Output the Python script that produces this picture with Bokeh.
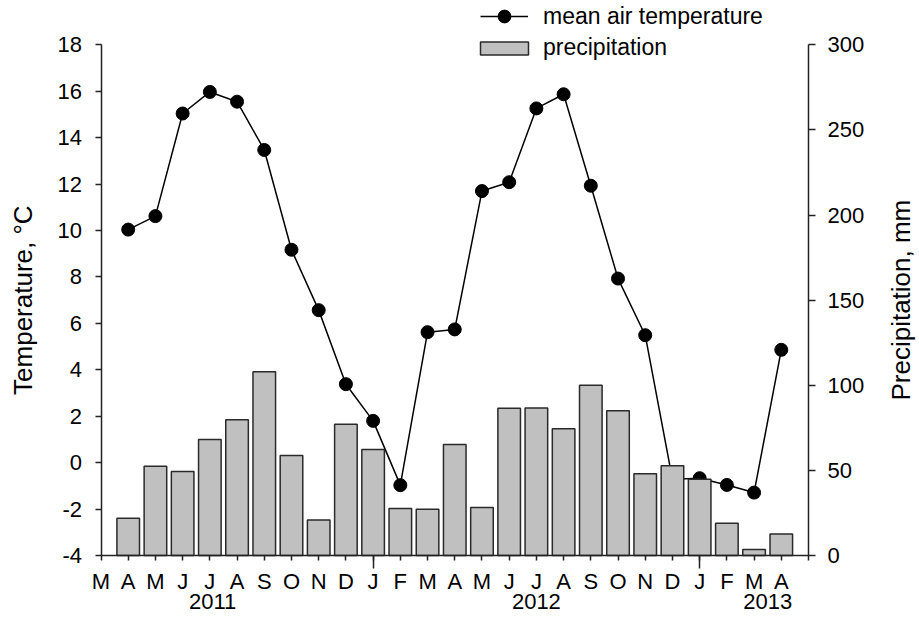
import math
import numpy as np
from bokeh.plotting import figure
from bokeh.models import (ColumnDataSource, Range1d, LinearAxis, FixedTicker,
                          Legend, LegendItem)
from bokeh.core.properties import value
from bokeh.embed import file_html
from bokeh.resources import INLINE

# ---------------- data ----------------
month_labels = ["M", "A", "M", "J", "J", "A", "S", "O", "N", "D",
                "J", "F", "M", "A", "M", "J", "J", "A", "S", "O", "N", "D",
                "J", "F", "M", "A"]            # Mar 2011 .. Apr 2013
months = list(range(1, 26))                    # Apr 2011 .. Apr 2013
temperature = [10.04, 10.62, 15.04, 15.97, 15.55, 13.47, 9.17, 6.57, 3.38,
               1.80, -0.97, 5.62, 5.74, 11.70, 12.08, 15.26, 15.87, 11.93,
               7.93, 5.49, -0.72, -0.67, -0.96, -1.29, 4.86]
precipitation = [21.9, 52.5, 49.3, 68.2, 79.7, 107.9, 58.8, 20.9, 77.1, 62.2,
                 27.6, 27.2, 65.2, 28.2, 86.5, 86.7, 74.4, 100.0, 85.1, 48.0,
                 52.7, 44.8, 19.0, 3.5, 12.7]
years = ["2011", "2012", "2013"]
year_label_pos = [4.1, 16.0, 24.5]
temp_ticks = list(range(-4, 19, 2))
precip_ticks = list(range(0, 301, 50))
temp_title = "Temperature, °C"
precip_title = "Precipitation, mm"

FONT = "Liberation Sans"
AX = "#222222"
W, H = 919, 619

# ---------------- layout (pixels) ----------------
AXIS_BOTTOM = 555      # canvas y of the bottom axis (y=-4 / 0 mm)
TOP_PAD = 44.3         # canvas y of the top of the axes (18 / 300)
PLOT_L, PLOT_R = 100.5, 808.0   # canvas x of month position 0 and 26
LEFT_TITLE_X, RIGHT_TITLE_X = 22.5, 900.0

n_pos = len(month_labels)
ppu_x = (PLOT_R - PLOT_L) / n_pos
x_start = -PLOT_L / ppu_x
x_end = n_pos + (W - PLOT_R) / ppu_x

t_lo, t_hi = temp_ticks[0], temp_ticks[-1]
p_lo, p_hi = precip_ticks[0], precip_ticks[-1]
ppu_t = (AXIS_BOTTOM - TOP_PAD) / (t_hi - t_lo)
ppu_p = (AXIS_BOTTOM - TOP_PAD) / (p_hi - p_lo)
t_range = (t_lo - (H - AXIS_BOTTOM) / ppu_t, t_hi + TOP_PAD / ppu_t)
p_range = (p_lo - (H - AXIS_BOTTOM) / ppu_p, p_hi + TOP_PAD / ppu_p)

src = ColumnDataSource(dict(x=months, t=temperature, p=precipitation))

p = figure(width=W, height=H, output_backend="svg", toolbar_location=None,
           title=None,
           x_range=Range1d(x_start, x_end), y_range=Range1d(*t_range),
           min_border_left=0, min_border_right=0,
           min_border_top=0, min_border_bottom=0)
p.outline_line_color = None
p.xgrid.grid_line_color = None
p.ygrid.grid_line_color = None
p.background_fill_color = "white"
p.border_fill_color = "white"
p.extra_y_ranges = {"precip": Range1d(*p_range)}

line_r = p.line("x", "t", source=src, line_color="black", line_width=1.5)
pts_r = p.scatter("x", "t", source=src, size=13, fill_color="black",
                  line_color="black")
bars_r = p.vbar(x="x", top="p", bottom=0, width=0.83, source=src,
                y_range_name="precip", fill_color="#c0c0c0",
                line_color="#2a2a2a", line_width=1.5)


def style_axis(ax, tick_out, standoff):
    ax.axis_line_color = AX
    ax.axis_line_width = 1.5
    ax.major_tick_line_color = AX
    ax.major_tick_line_width = 1.5
    ax.major_tick_out = tick_out
    ax.major_tick_in = 0
    ax.minor_tick_line_color = None
    ax.major_label_text_font = FONT
    ax.major_label_text_font_size = "22px"
    ax.major_label_text_color = "black"
    ax.major_label_standoff = standoff


# year boundaries (long ticks)
year_starts = [i for i in range(1, n_pos)
               if month_labels[i] == "J" and month_labels[i - 1] == "D"]

# bottom month axis (drawn at y = -4)
xaxis = p.xaxis[0]
xaxis.fixed_location = t_lo
xaxis.bounds = (0, n_pos)
xaxis.ticker = FixedTicker(ticks=list(range(n_pos + 1)), minor_ticks=year_starts)
xaxis.major_label_overrides = {i: (month_labels[i] if i < n_pos else "")
                               for i in range(n_pos + 1)}
style_axis(xaxis, 5, 0)
xaxis.minor_tick_line_color = AX
xaxis.minor_tick_line_width = 1.5
xaxis.minor_tick_out = 13
xaxis.minor_tick_in = 0

# year labels axis
year_axis = LinearAxis(ticker=FixedTicker(ticks=year_label_pos),
                       major_label_overrides=dict(zip(year_label_pos, years)),
                       fixed_location=t_lo)
style_axis(year_axis, 0, 38)
year_axis.axis_line_color = None
year_axis.major_tick_line_color = None
p.add_layout(year_axis, "below")

# left axis (drawn at month position 0)
yaxis = p.yaxis[0]
yaxis.fixed_location = 0
yaxis.bounds = (t_lo, t_hi)
yaxis.ticker = FixedTicker(ticks=temp_ticks)
yaxis.major_label_overrides = {t: str(t) for t in temp_ticks}
style_axis(yaxis, 6, 13)

# right axis (drawn at month position 26)
raxis = LinearAxis(y_range_name="precip", ticker=FixedTicker(ticks=precip_ticks),
                   bounds=(p_lo, p_hi), fixed_location=n_pos)
style_axis(raxis, 7, 12)
p.add_layout(raxis, "right")

# axis titles, rotated to read bottom-to-top
title_src = ColumnDataSource(dict(
    x=[(LEFT_TITLE_X - PLOT_L) / ppu_x, n_pos + (RIGHT_TITLE_X - PLOT_R) / ppu_x],
    y=[(t_lo + t_hi) / 2] * 2,
    text=[temp_title, precip_title]))
p.text(x="x", y="y", text="text", source=title_src, angle=math.pi / 2,
       text_align="center", text_baseline="middle", text_font=value(FONT),
       text_font_size=value("26px"), text_color="black")


# legends (location = bottom-left corner, measured from the frame's bottom-left)
def style_legend(lg, gw, gh, standoff):
    lg.glyph_width = gw
    lg.glyph_height = gh
    lg.label_standoff = standoff
    lg.padding = 0
    lg.margin = 0
    lg.spacing = 0
    lg.border_line_color = None
    lg.background_fill_alpha = 0
    lg.label_text_font = FONT
    lg.label_text_font_size = "23px"
    lg.label_text_color = "black"


leg1 = Legend(items=[LegendItem(label="mean air temperature",
                                renderers=[line_r, pts_r])],
              location=(480, H - 32))
style_legend(leg1, 48, 32, 15)
leg2 = Legend(items=[LegendItem(label="precipitation", renderers=[bars_r])],
              location=(474, H - 61))
style_legend(leg2, 60, 16, 9)
leg2.label_height = 16
p.add_layout(leg1)
p.add_layout(leg2)

open("out.html", "w").write(file_html(p, INLINE))
